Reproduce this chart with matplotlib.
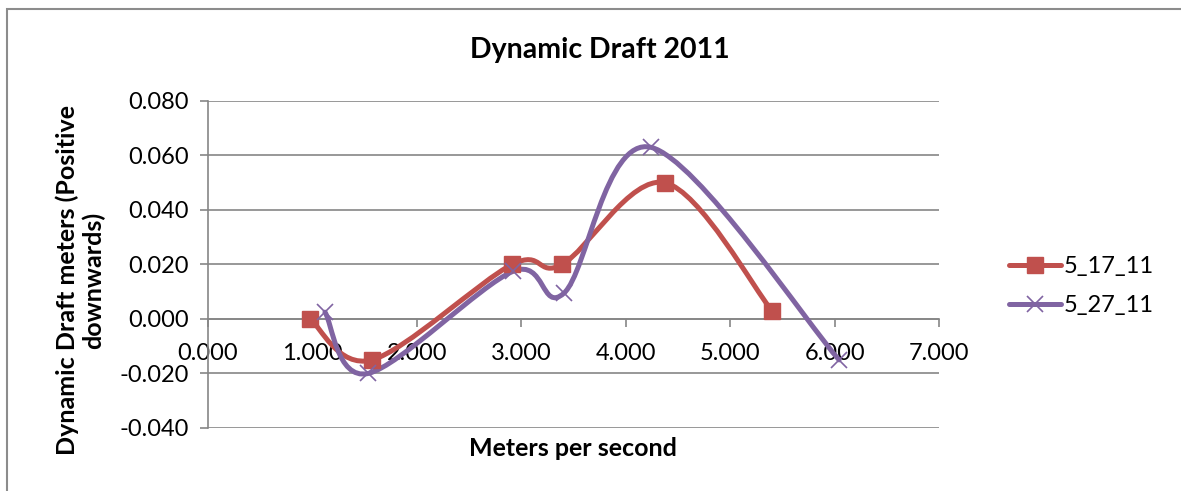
import numpy as np
import matplotlib
matplotlib.use("Agg")
import matplotlib.pyplot as plt
from matplotlib.patches import Rectangle
from matplotlib.path import Path
from matplotlib.patches import PathPatch

plt.rcParams["font.family"] = ["Lato", "DejaVu Sans"]

# data
speed_0517 = [0.977, 1.570, 2.911, 3.390, 4.376, 5.401]
draft_0517 = [0.000, -0.015, 0.020, 0.020, 0.050, 0.003]
speed_0527 = [1.120, 1.532, 2.921, 3.409, 4.242, 6.043]
draft_0527 = [0.0025, -0.020, 0.0175, 0.0095, 0.063, -0.015]
series_names = ["5_17_11", "5_27_11"]
x_ticks = [0, 1, 2, 3, 4, 5, 6, 7]
y_ticks = [-0.04, -0.02, 0.0, 0.02, 0.04, 0.06, 0.08]

GRID = "#868686"
RED = "#C0504D"
PURPLE = "#8064A2"


def smooth_path(ax, xs, ys):
    # Excel-style smoothed line: cubic Bezier through points, done in pixel space
    pts = ax.transData.transform(np.column_stack([xs, ys]))
    n = len(pts)
    verts = [pts[0]]
    codes = [Path.MOVETO]
    for i in range(n - 1):
        p0 = pts[i - 1] if i > 0 else pts[i]
        p1 = pts[i]
        p2 = pts[i + 1]
        p3 = pts[i + 2] if i + 2 < n else pts[i + 1]
        c1 = p1 + (p2 - p0) / 6.0
        c2 = p2 - (p3 - p1) / 6.0
        verts += [c1, c2, p2]
        codes += [Path.CURVE4] * 3
    verts = ax.transData.inverted().transform(np.array(verts))
    return Path(verts, codes)


fig = plt.figure(figsize=(11.81, 4.91), dpi=100)
ax = fig.add_axes([208 / 1181, 1 - 428 / 491, (939 - 208) / 1181, (428 - 101) / 491])

ax.set_xlim(0, 7)
ax.set_ylim(-0.04, 0.08)
ax.set_xticks(x_ticks)
ax.set_yticks(y_ticks)
ax.set_xticklabels([f"{v:.3f}" for v in x_ticks])
ax.set_yticklabels([f"{v:.3f}" for v in y_ticks])

ax.grid(axis="y", color=GRID, linewidth=1.2)
ax.set_axisbelow(True)
for s in ["top", "right"]:
    ax.spines[s].set_visible(False)
ax.spines["bottom"].set_position(("data", 0))
ax.spines["bottom"].set_color(GRID)
ax.spines["left"].set_color(GRID)
ax.spines["bottom"].set_linewidth(1.2)
ax.spines["left"].set_linewidth(1.2)
ax.tick_params(axis="x", direction="out", length=6, width=1.2, color=GRID,
               pad=11, labelsize=17)
ax.tick_params(axis="y", direction="out", length=6, width=1.2, color=GRID,
               pad=8, labelsize=17)

for xs, ys, color, marker, name in [
    (speed_0517, draft_0517, RED, "s", series_names[0]),
    (speed_0527, draft_0527, PURPLE, "x", series_names[1]),
]:
    path = smooth_path(ax, xs, ys)
    ax.add_patch(PathPatch(path, facecolor="none", edgecolor=color, lw=3.6,
                           capstyle="round", joinstyle="round", zorder=3))
    if marker == "s":
        ax.plot(xs, ys, linestyle="none", marker="s", markersize=11.5,
                color=color, zorder=4, clip_on=False)
    else:
        ax.plot(xs, ys, linestyle="none", marker="x", markersize=12,
                markeredgewidth=1.2, color=color, zorder=4, clip_on=False)

# legend proxies
h1, = ax.plot([], [], color=RED, lw=3.6, marker="s", markersize=11.5,
              solid_capstyle="round")
h2, = ax.plot([], [], color=PURPLE, lw=3.6, marker="x", markersize=12,
              markeredgewidth=1.2, solid_capstyle="round")
fig.legend([h1, h2], series_names, loc="center left",
           bbox_to_anchor=(1000 / 1181, 1 - 286 / 491), frameon=False,
           fontsize=17, handlelength=2.2, handletextpad=0.1,
           labelspacing=0.75, borderaxespad=0)

fig.text(600 / 1181, 1 - 50 / 491, "Dynamic Draft 2011", ha="center",
         va="center", fontsize=20.5, fontweight="bold")
fig.text(573 / 1181, 1 - 448 / 491, "Meters per second", ha="center",
         va="center", fontsize=18, fontweight="bold")
fig.text(80 / 1181, 1 - 280 / 491, "Dynamic Draft meters (Positive\ndownwards)",
         ha="center", va="center", rotation=90, fontsize=18,
         fontweight="bold", linespacing=1.15)

# chart area border (only left/top visible in the reference)
fig.add_artist(Rectangle((7 / 1181, -0.2), 1.5, 1.2 - 9 / 491,
                         transform=fig.transFigure, fill=False,
                         edgecolor="#8c8c8c", linewidth=1.5))

fig.savefig("out.png", dpi=100)
